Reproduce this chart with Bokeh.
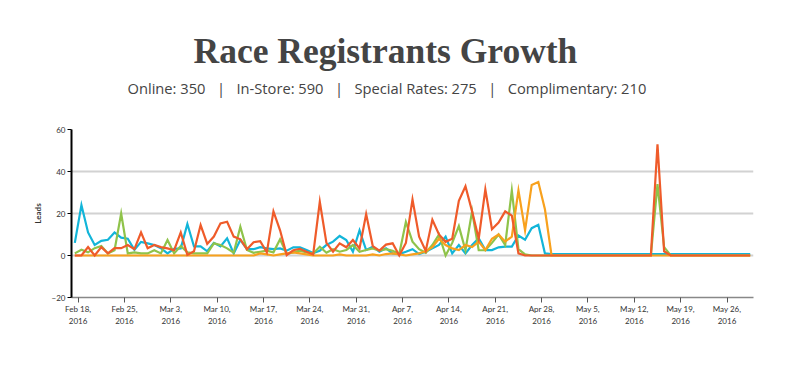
import pandas as pd
from bokeh.plotting import figure
from bokeh.models import Range1d, FixedTicker, Title
from bokeh.embed import file_html
from bokeh.resources import INLINE

start_day = "2016-02-17 12:00"
n_days = 103

online = [6, 24, 11, 5, 7, 7.5, 11, 8.5, 8, 2.7, 6.5, 5.8, 5, 3.5, 1, 3.2, 3.4, 15, 4.3, 4.3,
          2, 6, 4.3, 8.2, 1, 7.4, 3, 3, 4, 3.4, 3, 3.4, 2.3, 3.9, 3.9, 2.6, 1.2, 2.3, 5, 6.6,
          9.3, 7.4, 1.8, 12, 2.6, 4.2, 1.8, 3.4, 1, 0.7, 1.8, 3, 0.7, 1.8, 3.4, 5, 9, 1, 5, 1,
          5, 8.2, 2.6, 2.6, 3.9, 4.2, 4.2, 9.5, 7.5, 13, 14.6, 1] + [0.7] * 31
in_store = [1, 2.7, 1.5, 3.5, 4.5, 1, 2.5, 20, 1, 1.5, 1, 1, 2.5, 1, 7.4, 1, 4.5, 1.5, 1, 1,
            1, 5.8, 5, 3.4, 1.3, 13.7, 2.6, 1.3, 1.8, 2.3, 1.5, 7.7, 0.7, 1.5, 2.3, 1.5, 1, 4.2, 1.3, 3,
            1.8, 2.6, 5, 1.8, 2.6, 3.4, 2.3, 3, 2.3, 0.7, 16, 6.6, 3, 1.3, 5, 10, 0, 6, 14, 2.5,
            21, 2.5, 2.5, 6, 10, 5, 31, 3, 0.5] + [0] * 19 + [34, 4] + [0] * 13
special = [0, 0, 4, 0, 4, 1, 3.5, 3.5, 5, 3, 11, 3.5, 5, 4, 3.4, 2.5, 11, 0.3, 2, 14.5,
           5.5, 9, 15.3, 16.1, 9, 7.7, 3, 6.3, 6.8, 1.5, 21, 12, 0.2, 2.5, 3.2, 1.8, 0.5, 25.6, 6, 1.8,
           5.8, 3.9, 7.4, 3.4, 19.7, 4.5, 2.3, 5.2, 5.8, 0, 6, 26.7, 9, 2.2, 17, 10, 6.5, 8, 26, 33,
           21, 8, 31.5, 12.5, 15.7, 21, 19, 1] + [0] * 20 + [53, 2] + [0] * 13
complimentary = [0] * 28 + [1, 0.5, 0, 0.5, 1, 1.5, 1, 0.5, 0, 0, 0, 0, 0.5, 0, 0, 0, 0, 0.5,
                 0, 0.7, 1, 0.5, 0, 0.5, 1, 2, 4, 8, 5, 3.4, 2.6, 5, 4, 6.6, 2.6, 8, 10, 6.6,
                 9, 31, 12, 33.6, 35, 22] + [0] * 31

tick_dates = ["2016-02-18", "2016-02-25", "2016-03-03", "2016-03-10", "2016-03-17",
              "2016-03-24", "2016-03-31", "2016-04-07", "2016-04-14", "2016-04-21",
              "2016-04-28", "2016-05-05", "2016-05-12", "2016-05-19", "2016-05-26"]
tick_labels = ["Feb 18,\n2016", "Feb 25,\n2016", "Mar 3,\n2016", "Mar 10,\n2016", "Mar 17,\n2016",
               "Mar 24,\n2016", "Mar 31,\n2016", "Apr 7,\n2016", "Apr 14,\n2016", "Apr 21,\n2016",
               "Apr 28,\n2016", "May 5,\n2016", "May 12,\n2016", "May 19,\n2016", "May 26,\n2016"]
y_ticks = [-20, 0, 20, 40, 60]

title_text = "Race Registrants Growth"
subtitle_text = ("Online: 350\u00a0\u00a0\u00a0|\u00a0\u00a0\u00a0In-Store: 590\u00a0\u00a0\u00a0|\u00a0\u00a0\u00a0"
                 "Special Rates: 275\u00a0\u00a0\u00a0|\u00a0\u00a0\u00a0Complimentary: 210")

dates = pd.date_range(start_day, periods=n_days, freq="D")

p = figure(width=780, height=356, output_backend="svg", toolbar_location=None, title=None,
           x_axis_type="datetime",
           x_range=Range1d(pd.Timestamp("2016-02-17"), pd.Timestamp("2016-05-30")),
           y_range=Range1d(-20, 60),
           min_border_left=71, min_border_right=27, min_border_top=0, min_border_bottom=59)
p.outline_line_color = None
p.background_fill_color = "white"
p.border_fill_color = "white"

colors = {"online": "#12b5d9", "in_store": "#8fc34a", "complimentary": "#f8a11d", "special": "#ef5b2a"}
for series, key in [(online, "online"), (in_store, "in_store"), (complimentary, "complimentary"), (special, "special")]:
    p.line(dates, series, line_color=colors[key], line_width=2.2, line_join="miter")

# axes
ms = [pd.Timestamp(d).value // 10**6 for d in tick_dates]
p.xaxis.ticker = FixedTicker(ticks=ms)
p.xaxis.major_label_overrides = {m: lab for m, lab in zip(ms, tick_labels)}
p.xaxis.minor_tick_line_color = None
p.xaxis.major_tick_in = 0
p.xaxis.major_tick_out = 5
p.xaxis.major_label_standoff = 1
p.xaxis.axis_line_color = "#888888"
p.xaxis.axis_line_width = 1.5
p.xaxis.major_tick_line_color = "#555555"
p.xaxis.major_label_text_font = "Lato"
p.xaxis.major_label_text_font_size = "8px"
p.xaxis.major_label_text_color = "#333333"

p.yaxis.ticker = FixedTicker(ticks=y_ticks)
p.yaxis.minor_tick_line_color = None
p.yaxis.major_tick_in = 0
p.yaxis.major_tick_out = 4
p.yaxis.major_label_standoff = 2
p.yaxis.axis_line_color = "black"
p.yaxis.axis_line_width = 2
p.yaxis.major_tick_line_color = "black"
p.yaxis.major_label_text_font = "Lato"
p.yaxis.major_label_text_font_size = "8px"
p.yaxis.major_label_text_color = "#333333"
p.yaxis.axis_label = "Leads"
p.yaxis.axis_label_text_font = "Lato"
p.yaxis.axis_label_text_font_size = "8px"
p.yaxis.axis_label_text_font_style = "bold"
p.yaxis.axis_label_text_color = "#333333"
p.yaxis.axis_label_standoff = 6

p.xgrid.grid_line_color = None
p.ygrid.ticker = FixedTicker(ticks=[0, 20, 40, 60])
p.ygrid.grid_line_color = "#d2d2d2"
p.ygrid.grid_line_width = 2

# stacked from the frame upwards
p.add_layout(Title(text="\u00a0", text_font_size="1px", standoff=24.5), "above")
p.add_layout(Title(text=subtitle_text, align="left", offset=56, text_font="Open Sans",
                   text_font_size="14.7px", text_font_style="normal", text_color="#444444",
                   standoff=7), "above")
p.add_layout(Title(text=title_text, align="left", offset=122, text_font="Liberation Serif",
                   text_font_size="35.5px", text_font_style="bold", text_color="#444444",
                   standoff=4), "above")
p.add_layout(Title(text="\u00a0", text_font_size="1px", standoff=23), "above")

open("out.html", "w").write(file_html(p, INLINE))
